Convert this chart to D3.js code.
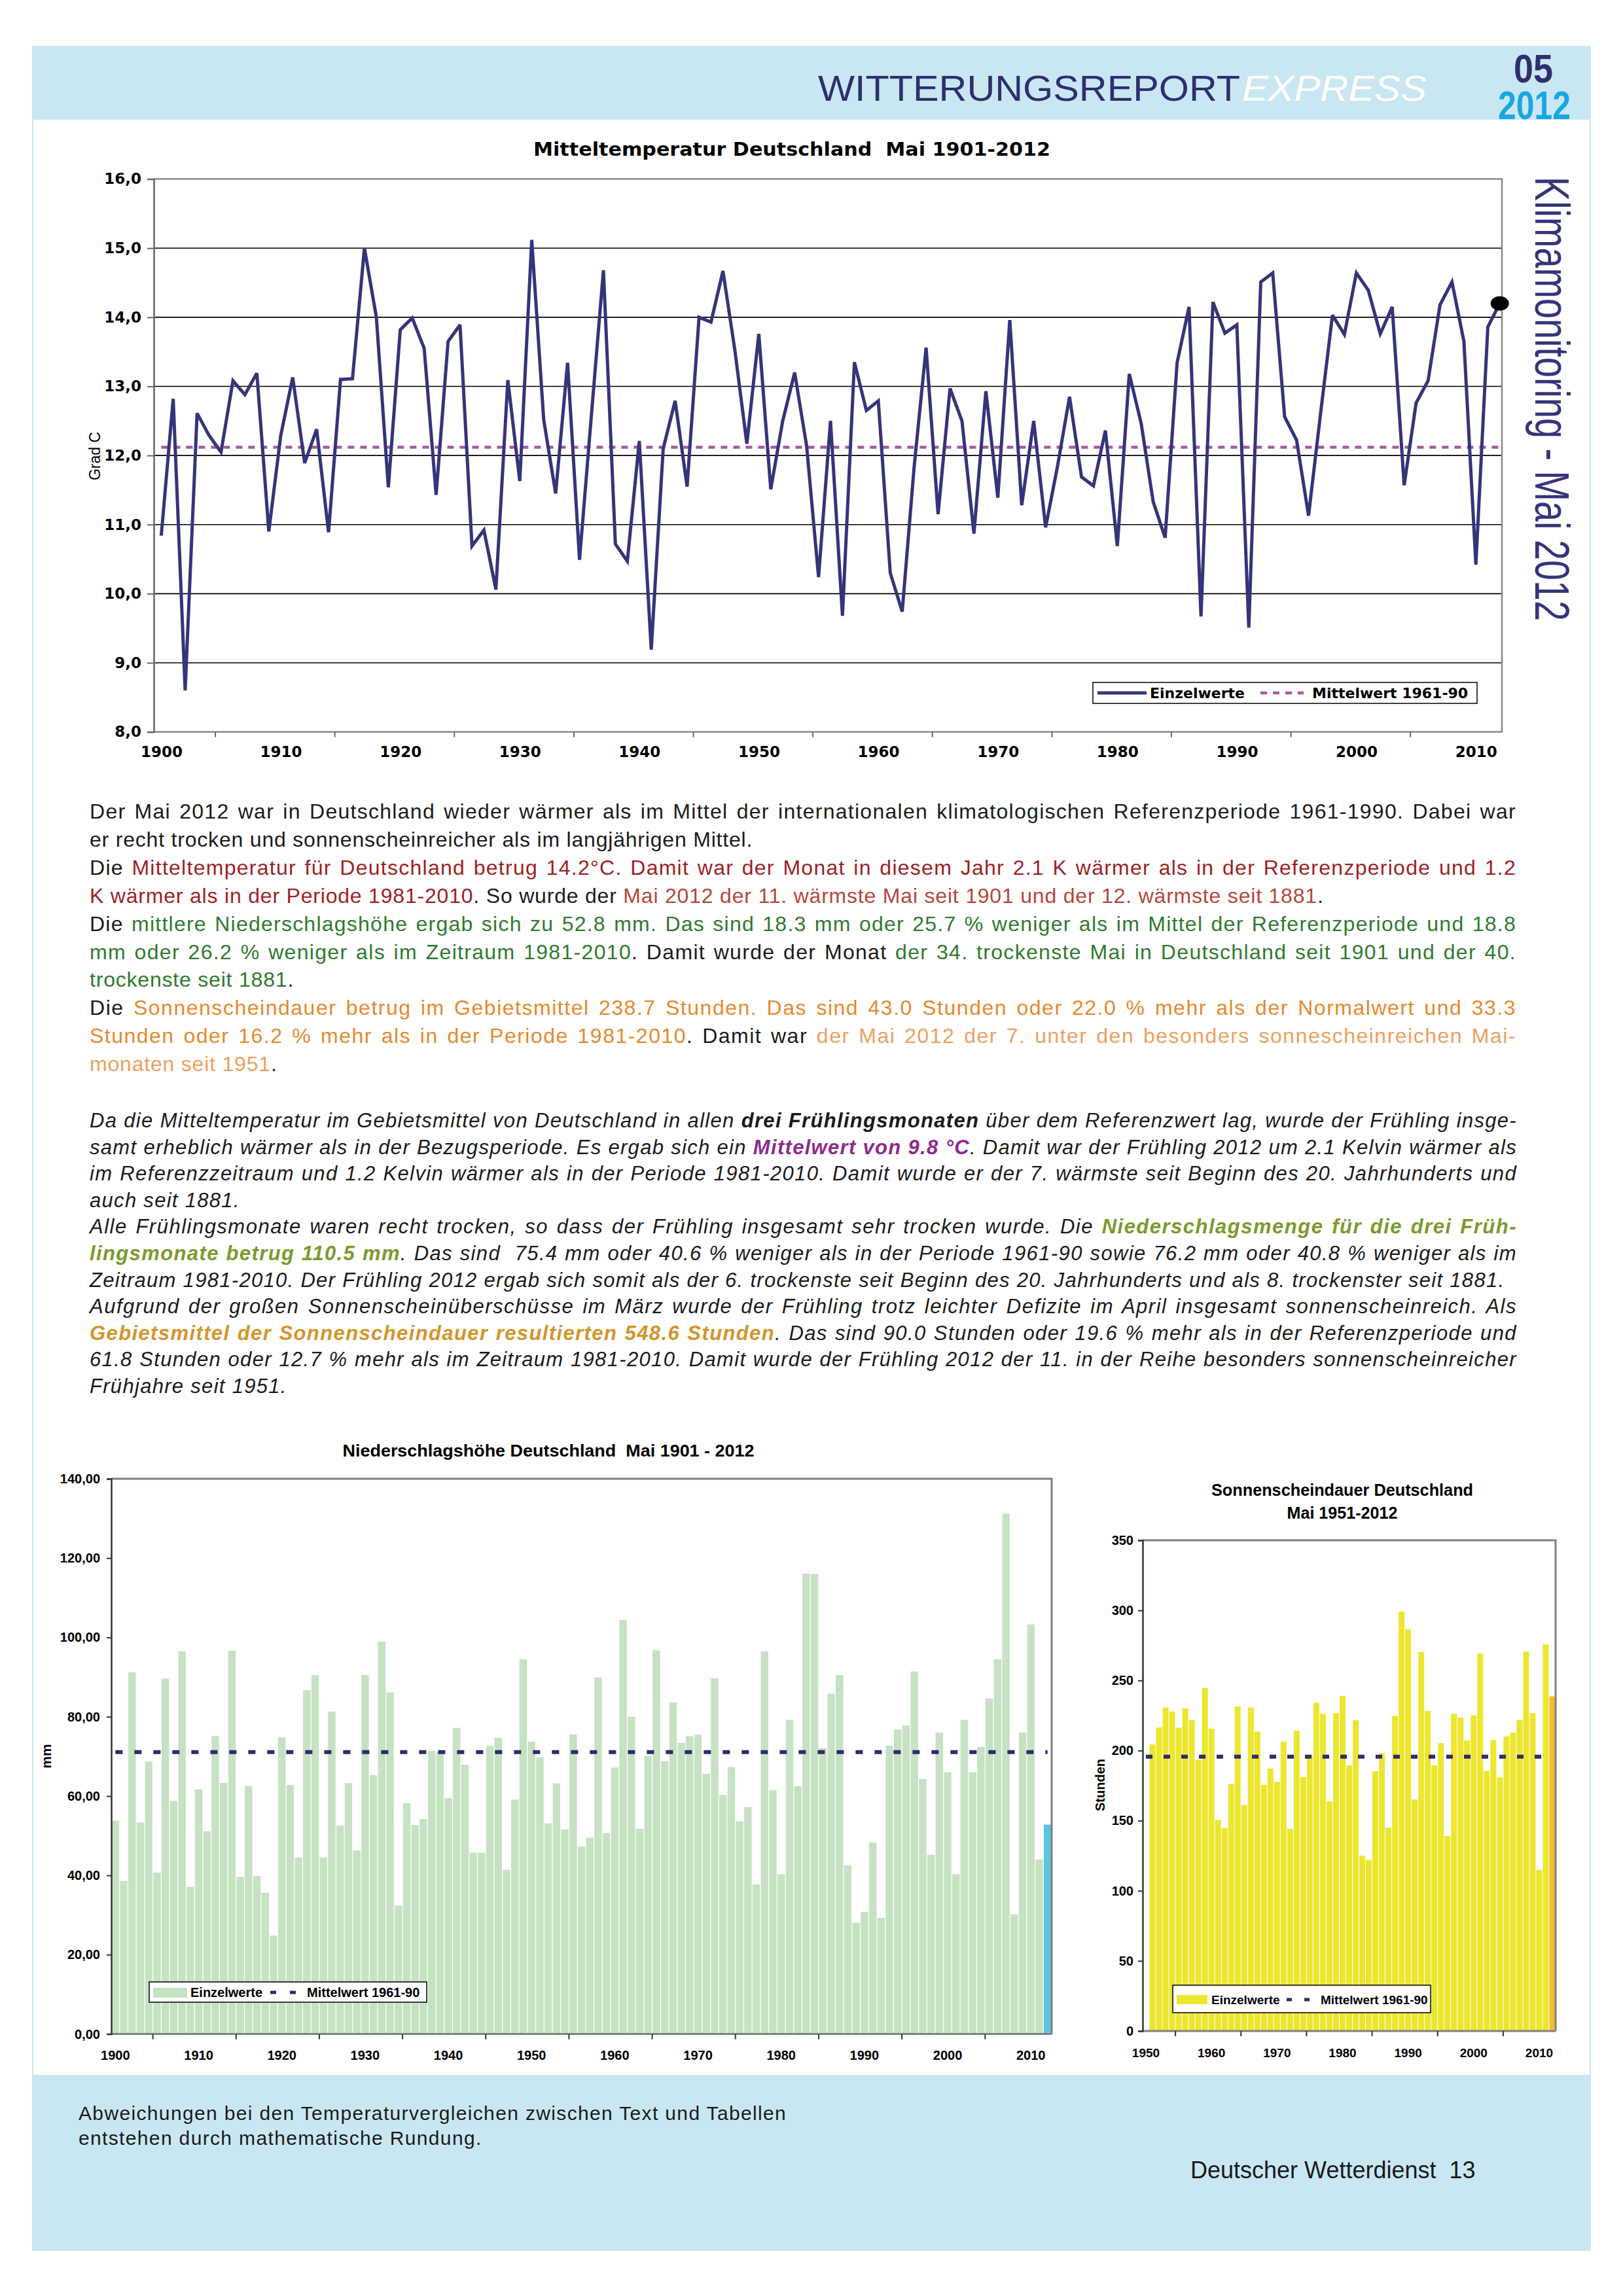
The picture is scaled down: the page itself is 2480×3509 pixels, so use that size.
<!DOCTYPE html>
<html><head><meta charset="utf-8">
<script src="https://cdn.jsdelivr.net/npm/d3@7"></script>
<style>
html,body{margin:0;padding:0;background:#fff;}
#page{position:relative;width:2480px;height:3509px;overflow:hidden;font-family:"Liberation Sans",Arial,sans-serif;background:#fff;}
#page svg{position:absolute;left:0;top:0;}
.ln{position:absolute;white-space:pre;line-height:1.117;color:#1a1a1a;font-family:"Liberation Sans",Arial,sans-serif;}
</style></head><body><div id="page"></div>
<script>
// ---------------- DATA ----------------
const tempStartYear = 1900;
const tempValues = [10.84,12.82,8.60,12.61,12.29,12.05,13.08,12.88,13.19,10.90,
 12.29,13.13,11.89,12.38,10.89,13.10,13.11,15.00,14.00,11.54,
 13.82,13.99,13.55,11.43,13.65,13.89,10.69,10.92,10.06,13.09,
 11.63,15.12,12.52,11.45,13.34,10.49,12.60,14.68,10.72,10.47,
 12.21,9.19,12.10,12.79,11.55,14.00,13.93,14.67,13.52,12.17,
 13.76,11.51,12.50,13.20,12.14,10.24,12.50,9.68,13.35,12.65,
 12.79,10.30,9.74,11.84,13.56,11.15,12.97,12.50,10.87,12.93,
 11.39,13.96,11.28,12.50,10.96,11.85,12.85,11.69,11.56,12.36,
 10.69,13.18,12.46,11.33,10.81,13.34,14.15,9.67,14.22,13.77,
 13.89,9.51,14.51,14.64,12.56,12.22,11.13,12.60,14.03,13.75,
 14.64,14.39,13.76,14.15,11.57,12.76,13.08,14.18,14.51,13.65,
 10.42,13.86,14.20];
const tempMean = 12.12;
const tempYTicks = [8,9,10,11,12,13,14,15,16];
const tempXLabels = [1900,1910,1920,1930,1940,1950,1960,1970,1980,1990,2000,2010];

const precipStartYear = 1900;
const precipValues = [53.8,38.6,91.2,53.3,68.7,40.7,89.6,58.8,96.5,37.1,
 61.7,51.1,75.1,63.3,96.6,39.6,62.5,39.9,35.6,24.8,
 74.8,62.8,44.5,86.7,90.5,44.5,81.3,52.6,63.3,46.3,
 90.5,65.3,98.9,86.1,32.4,58.2,52.7,54.2,71.4,71.1,
 59.5,77.2,67.9,45.7,45.7,72.7,74.7,41.4,59.1,94.5,
 73.7,69.8,53.1,63.2,51.6,75.5,47.3,49.5,89.9,50.7,
 67.2,104.4,80.0,51.8,70.2,96.8,68.8,83.6,73.4,75.1,
 75.5,65.6,89.7,60.3,67.3,53.6,57.2,37.7,96.5,61.5,
 40.3,79.2,62.5,116.1,116.0,72.1,85.8,90.5,42.5,28.1,
 30.8,48.3,29.3,72.7,76.8,77.8,91.4,64.3,45.2,76.0,
 66.0,40.3,79.2,66.0,72.4,84.6,94.5,131.2,30.2,76.0,
 103.3,44.0,52.8];
const precipMean = 71.1;
const precipYTicks = [0,20,40,60,80,100,120,140];
const precipXLabels = [1900,1910,1920,1930,1940,1950,1960,1970,1980,1990,2000,2010];
const precipXTicks = [1905,1915,1925,1935,1945,1955,1965,1975,1985,1995,2005];

const sunAxisStart = 1950;
const sunStartYear = 1951;
const sunValues = [204.4,216.6,230.7,227.9,216.3,230.1,221.7,193.4,244.6,215.7,
 150.4,144.8,176.1,231.5,161.2,230.7,213.5,175.6,187.2,177.6,
 206.4,144.2,214.3,181.2,197.0,234.1,226.2,163.7,226.7,238.9,
 189.4,221.7,125.0,122.1,185.2,198.2,145.0,224.8,299.1,286.4,
 165.1,270.3,228.2,189.4,205.3,139.1,226.2,223.6,207.2,225.1,
 269.2,185.5,207.5,180.9,210.1,212.9,221.7,270.6,226.7,114.8,
 275.7,238.7];
const sunMean = 195.7;
const sunYTicks = [0,50,100,150,200,250,300,350];
const sunXLabels = [1950,1960,1970,1980,1990,2000,2010];
const sunXTicks = [1955,1965,1975,1985,1995,2005];

// ---------------- PAGE ----------------
const page = d3.select('#page');
const svg = page.append('svg').attr('width',2480).attr('height',3509);
const BAND = '#C9E7F2', NAVY = '#35347A';

svg.append('rect').attr('x',49).attr('y',70).attr('width',2382).attr('height',113).attr('fill',BAND);
svg.append('rect').attr('x',49).attr('y',3171).attr('width',2382).attr('height',269).attr('fill',BAND);
svg.append('line').attr('x1',50).attr('x2',50).attr('y1',183).attr('y2',3171).attr('stroke',BAND).attr('stroke-width',2);
svg.append('line').attr('x1',2430).attr('x2',2430).attr('y1',183).attr('y2',3171).attr('stroke',BAND).attr('stroke-width',2);

// header
svg.append('text').attr('x',1250).attr('y',154).attr('font-size',56).attr('fill','#2E2F6E')
  .attr('textLength',645).attr('lengthAdjust','spacingAndGlyphs').text('WITTERUNGSREPORT');
svg.append('text').attr('x',1898).attr('y',154).attr('font-size',56).attr('fill','#fff').attr('font-style','italic')
  .attr('textLength',282).attr('lengthAdjust','spacingAndGlyphs').text('EXPRESS');
svg.append('text').attr('x',2313).attr('y',126).attr('font-size',62).attr('font-weight','bold').attr('fill','#2E2F6E')
  .attr('textLength',60).attr('lengthAdjust','spacingAndGlyphs').text('05');
svg.append('text').attr('x',2289).attr('y',182).attr('font-size',62).attr('font-weight','bold').attr('fill','#1BA6E2')
  .attr('textLength',111).attr('lengthAdjust','spacingAndGlyphs').text('2012');

// Klimamonitoring side text
svg.append('text').attr('transform','translate(2346,270) rotate(90)').attr('font-size',74).attr('fill',NAVY)
  .attr('textLength',679).attr('lengthAdjust','spacingAndGlyphs').text('Klimamonitoring - Mai 2012');

// ---------------- TEMPERATURE CHART ----------------
const T = {l:235, r:2295, t:273.6, b:1118.6};
const tEnd = tempStartYear + tempValues.length - 1;
const tx = d3.scaleLinear().domain([tempStartYear, tEnd]).range([246.4, 2291.7]);
const ty = d3.scaleLinear().domain([8,16]).range([T.b, T.t]);
const tg = svg.append('g');
const DJ = 'DejaVu Sans';

tg.append('text').attr('x',815).attr('y',238).attr('font-family',DJ).attr('font-weight','bold').attr('font-size',28)
  .attr('textLength',790).attr('lengthAdjust','spacingAndGlyphs').style('white-space','pre')
  .text('Mitteltemperatur Deutschland  Mai 1901-2012');

tg.selectAll('line.tgrid').data(tempYTicks.filter(v => v > 8 && v < 16)).join('line').attr('class','tgrid')
  .attr('x1',T.l).attr('x2',T.r).attr('y1',d=>ty(d)).attr('y2',d=>ty(d)).attr('stroke','#000').attr('stroke-width',1.6);

tg.append('line').attr('x1',tx(tempStartYear)).attr('x2',tx(tEnd))
  .attr('y1',ty(tempMean)).attr('y2',ty(tempMean)).attr('stroke','#A65AA0').attr('stroke-width',4.5).attr('stroke-dasharray','10 9');

tg.append('path').datum(tempValues)
  .attr('d', d3.line().x((d,i)=>tx(tempStartYear+i)).y(d=>ty(d)))
  .attr('fill','none').attr('stroke',NAVY).attr('stroke-width',5).attr('stroke-linejoin','miter').attr('stroke-miterlimit',3);

tg.append('path').attr('d',`M${T.l},${T.t}H${T.r}V${T.b}H${T.l}`).attr('fill','none').attr('stroke','#8a8a8a').attr('stroke-width',2.5);

const tAY = tg.append('g').attr('transform',`translate(${T.l},0)`)
  .call(d3.axisLeft(ty).tickValues(tempYTicks).tickSize(10).tickPadding(9).tickFormat(d=>d.toFixed(1).replace('.',',')));
tAY.select('.domain').attr('stroke','#666').attr('stroke-width',2.5);
tAY.selectAll('.tick line').attr('stroke','#666').attr('stroke-width',2);
tAY.selectAll('text').attr('font-family',DJ).attr('font-weight','bold').attr('font-size',23).attr('fill','#000');

const tAX = tg.append('g').attr('transform',`translate(0,${T.b})`)
  .call(d3.axisBottom(tx).tickValues(tempXLabels).tickSize(0).tickPadding(22).tickFormat(d3.format('d')));
tAX.select('.domain').remove();
tAX.selectAll('text').attr('font-family',DJ).attr('font-weight','bold').attr('font-size',23).attr('fill','#000');
const tAT = tg.append('g').attr('transform',`translate(0,${T.b})`)
  .call(d3.axisBottom(tx).tickValues(tempXLabels.map(y=>y+4.5).filter(y=>y<tEnd)).tickSize(8).tickFormat(''));
tAT.select('.domain').remove();
tAT.selectAll('.tick line').attr('stroke','#666').attr('stroke-width',2);

const lastT = tempValues.length - 1;
tg.append('ellipse').attr('cx',tx(tempStartYear+lastT)).attr('cy',ty(tempValues[lastT])).attr('rx',14).attr('ry',11).attr('fill','#000');

tg.append('text').attr('transform',`translate(153,697) rotate(-90)`).attr('text-anchor','middle')
  .attr('font-size',23).attr('fill','#000').text('Grad C');

// legend
const tl = tg.append('g');
tl.append('rect').attr('x',1670).attr('y',1043).attr('width',587).attr('height',32).attr('fill','#fff').attr('stroke','#000').attr('stroke-width',1.5);
tl.append('line').attr('x1',1677).attr('x2',1752).attr('y1',1059).attr('y2',1059).attr('stroke',NAVY).attr('stroke-width',5);
tl.append('text').attr('x',1757).attr('y',1067).attr('font-family',DJ).attr('font-weight','bold').attr('font-size',22).text('Einzelwerte');
tl.append('line').attr('x1',1926).attr('x2',1992).attr('y1',1059).attr('y2',1059).attr('stroke','#A65AA0').attr('stroke-width',4.5).attr('stroke-dasharray','10 9');
tl.append('text').attr('x',2005).attr('y',1067).attr('font-family',DJ).attr('font-weight','bold').attr('font-size',22).text('Mittelwert 1961-90');

// ---------------- TEXT ----------------
const styles = {
  k:{c:'#1a1a1a'}, r:{c:'#9E1F23'}, r2:{c:'#B4473B'}, g:{c:'#2F7A2E'}, o:{c:'#E5892C'}, o2:{c:'#ECA060'},
  i:{c:'#1a1a1a'}, ib:{c:'#1a1a1a',b:1}, ip:{c:'#8E2A8C',b:1}, ig:{c:'#7C9A2E',b:1}, io:{c:'#D2952B',b:1}
};
const para1 = [
 [[['Der Mai 2012 war in Deutschland wieder wärmer als im Mittel der internationalen klimatologischen Referenzperiode 1961-1990. Dabei war','k']],1],
 [[['er recht trocken und sonnenscheinreicher als im langjährigen Mittel.','k']],0],
 [[['Die ','k'],['Mitteltemperatur für Deutschland betrug 14.2°C. Damit war der Monat in diesem Jahr 2.1 K wärmer als in der Referenzperiode und 1.2','r']],1],
 [[['K wärmer als in der Periode 1981-2010','r'],['. So wurde der ','k'],['Mai 2012 der 11. wärmste Mai seit 1901 und der 12. wärmste seit 1881','r2'],['.','k']],0],
 [[['Die ','k'],['mittlere Niederschlagshöhe ergab sich zu 52.8 mm. Das sind 18.3 mm oder 25.7 % weniger als im Mittel der Referenzperiode und 18.8','g']],1],
 [[['mm oder 26.2 % weniger als im Zeitraum 1981-2010','g'],['. Damit wurde der Monat ','k'],['der 34. trockenste Mai in Deutschland seit 1901 und der 40.','g']],1],
 [[['trockenste seit 1881','g'],['.','k']],0],
 [[['Die ','k'],['Sonnenscheindauer betrug im Gebietsmittel 238.7 Stunden. Das sind 43.0 Stunden oder 22.0 % mehr als der Normalwert und 33.3','o']],1],
 [[['Stunden oder 16.2 % mehr als in der Periode 1981-2010','o'],['. Damit war ','k'],['der Mai 2012 der 7. unter den besonders sonnescheinreichen Mai-','o2']],1],
 [[['monaten seit 1951','o2'],['.','k']],0]
];
const para2 = [
 [[['Da die Mitteltemperatur im Gebietsmittel von Deutschland in allen ','i'],['drei Frühlingsmonaten','ib'],[' über dem Referenzwert lag, wurde der Frühling insge-','i']],1],
 [[['samt erheblich wärmer als in der Bezugsperiode. Es ergab sich ein ','i'],['Mittelwert von 9.8 °C','ip'],['. Damit war der Frühling 2012 um 2.1 Kelvin wärmer als','i']],1],
 [[['im Referenzzeitraum und 1.2 Kelvin wärmer als in der Periode 1981-2010. Damit wurde er der 7. wärmste seit Beginn des 20. Jahrhunderts und','i']],1],
 [[['auch seit 1881.','i']],0],
 [[['Alle Frühlingsmonate waren recht trocken, so dass der Frühling insgesamt sehr trocken wurde. Die ','i'],['Niederschlagsmenge für die drei Früh-','ig']],1],
 [[['lingsmonate betrug 110.5 mm','ig'],['. Das sind  75.4 mm oder 40.6 % weniger als in der Periode 1961-90 sowie 76.2 mm oder 40.8 % weniger als im','i']],1],
 [[['Zeitraum 1981-2010. Der Frühling 2012 ergab sich somit als der 6. trockenste seit Beginn des 20. Jahrhunderts und als 8. trockenster seit 1881.','i']],0],
 [[['Aufgrund der großen Sonnenscheinüberschüsse im März wurde der Frühling trotz leichter Defizite im April insgesamt sonnenscheinreich. Als','i']],1],
 [[['Gebietsmittel der Sonnenscheindauer resultierten 548.6 Stunden','io'],['. Das sind 90.0 Stunden oder 19.6 % mehr als in der Referenzperiode und','i']],1],
 [[['61.8 Stunden oder 12.7 % mehr als im Zeitraum 1981-2010. Damit wurde der Frühling 2012 der 11. in der Reihe besonders sonnenscheinreicher','i']],1],
 [[['Frühjahre seit 1951.','i']],0]
];
function textLine(segs, x, baseline, width, size, justify, italic, ls, share){
  const div = page.append('div').attr('class','ln')
    .style('left', x+'px').style('top', (baseline - 0.905*size)+'px')
    .style('font-size', size+'px').style('font-style', italic ? 'italic' : 'normal')
    .style('letter-spacing', ls+'px');
  const sp = div.append('span');
  segs.forEach(([t,k]) => sp.append('span').text(t).style('color', styles[k].c).style('font-weight', styles[k].b ? 'bold' : 'normal'));
  if (justify) {
    const full = segs.map(s=>s[0]).join('');
    const n = full.split(' ').length - 1;
    let w = sp.node().getBoundingClientRect().width;
    const extra = width - w;
    if (extra > 0) {
      div.style('letter-spacing', (ls + extra*share/full.length)+'px');
      w = sp.node().getBoundingClientRect().width;
    }
    if (n > 0) div.style('word-spacing', ((width - w)/n) + 'px');
  }
}
para1.forEach(([segs,j],k) => textLine(segs, 137, 1252 + k*42.9, 2180, 32, j, false, 0.8, 0.55));
para2.forEach(([segs,j],k) => textLine(segs, 137, 1724 + k*40.6, 2181, 31, j, true, 1.3, 0.35));

// ---------------- PRECIPITATION CHART ----------------
const P = {l:170, r:1607, t:2260, b:3108.6};
const pYears = precipValues.map((d,i)=>precipStartYear+i);
const px = d3.scaleBand().domain(pYears).range([P.l, P.r]).paddingInner(0.1).paddingOuter(0.05);
const py = d3.scaleLinear().domain([0,140]).range([P.b, P.t]);
const pg = svg.append('g');
const AR = '"Liberation Sans", Arial, sans-serif';

pg.append('text').attr('x',838).attr('y',2226).attr('text-anchor','middle').attr('font-weight','bold').attr('font-size',26)
  .attr('textLength',629).attr('lengthAdjust','spacingAndGlyphs').style('white-space','pre')
  .text('Niederschlagshöhe Deutschland  Mai 1901 - 2012');

pg.selectAll('rect.pbar').data(precipValues).join('rect').attr('class','pbar')
  .attr('x',(d,i)=>px(pYears[i])).attr('width',px.bandwidth())
  .attr('y',d=>py(d)).attr('height',d=>P.b-py(d))
  .attr('fill',(d,i)=> i === precipValues.length-1 ? '#5CC6DD' : '#C6E2C3');

pg.append('line').attr('x1',px(pYears[0])+px.bandwidth()/2).attr('x2',px(pYears[pYears.length-1])+px.bandwidth()/2)
  .attr('y1',py(precipMean)).attr('y2',py(precipMean)).attr('stroke','#2E2C6B').attr('stroke-width',6).attr('stroke-dasharray','11 18');

pg.append('path').attr('d',`M${P.l},${P.t}H${P.r}V${P.b}`).attr('fill','none').attr('stroke','#808080').attr('stroke-width',3);
pg.append('line').attr('x1',P.l).attr('x2',P.r).attr('y1',P.b).attr('y2',P.b).attr('stroke','#808080').attr('stroke-width',3);

const pAY = pg.append('g').attr('transform',`translate(${P.l},0)`)
  .call(d3.axisLeft(py).tickValues(precipYTicks).tickSize(7).tickPadding(10).tickFormat(d=>d+',00'));
pAY.select('.domain').attr('stroke','#333').attr('stroke-width',2.5);
pAY.selectAll('.tick line').attr('stroke','#333').attr('stroke-width',2);
pAY.selectAll('text').attr('font-family',AR).attr('font-weight','bold').attr('font-size',20).attr('fill','#000');

const pAX = pg.append('g').attr('transform',`translate(0,${P.b})`)
  .call(d3.axisBottom(px).tickValues(precipXLabels).tickSize(0).tickPadding(25));
pAX.select('.domain').remove();
pAX.selectAll('text').attr('font-family',AR).attr('font-weight','bold').attr('font-size',20).attr('fill','#000');
const pGap = (px.step()-px.bandwidth())/2;
pg.selectAll('line.ptick').data(precipXTicks).join('line').attr('class','ptick')
  .attr('x1',d=>px(d)-pGap).attr('x2',d=>px(d)-pGap).attr('y1',P.b).attr('y2',P.b+8).attr('stroke','#333').attr('stroke-width',2);

pg.append('text').attr('transform','translate(78,2684) rotate(-90)').attr('text-anchor','middle')
  .attr('font-weight','bold').attr('font-size',21).text('mm');

const pl = pg.append('g');
pl.append('rect').attr('x',228).attr('y',3029).attr('width',424).attr('height',31).attr('fill','#fff').attr('stroke','#000').attr('stroke-width',1.5);
pl.append('rect').attr('x',234).attr('y',3038).attr('width',52).attr('height',15).attr('fill','#C6E2C3');
pl.append('text').attr('x',291).attr('y',3052).attr('font-weight','bold').attr('font-size',20).text('Einzelwerte');
pl.append('line').attr('x1',413).attr('x2',452).attr('y1',3045).attr('y2',3045).attr('stroke','#2E2C6B').attr('stroke-width',5).attr('stroke-dasharray','9 21');
pl.append('text').attr('x',469).attr('y',3052).attr('font-weight','bold').attr('font-size',20).text('Mittelwert 1961-90');

// ---------------- SUNSHINE CHART ----------------
const S = {l:1746, r:2377, t:2354, b:3104};
const sCats = d3.range(sunAxisStart, sunStartYear + sunValues.length);
const sYears = sunValues.map((d,i)=>sunStartYear+i);
const sx = d3.scaleBand().domain(sCats).range([S.l, S.r]).paddingInner(0.1).paddingOuter(0.05);
const sy = d3.scaleLinear().domain([0,350]).range([S.b, S.t]);
const sg = svg.append('g');

sg.append('text').attr('x',2051).attr('y',2286).attr('text-anchor','middle').attr('font-weight','bold').attr('font-size',25)
  .attr('textLength',400).attr('lengthAdjust','spacingAndGlyphs').text('Sonnenscheindauer Deutschland');
sg.append('text').attr('x',2051).attr('y',2321).attr('text-anchor','middle').attr('font-weight','bold').attr('font-size',25)
  .attr('textLength',169).attr('lengthAdjust','spacingAndGlyphs').text('Mai 1951-2012');

sg.selectAll('rect.sbar').data(sunValues).join('rect').attr('class','sbar')
  .attr('x',(d,i)=>sx(sYears[i])).attr('width',sx.bandwidth())
  .attr('y',d=>sy(d)).attr('height',d=>S.b-sy(d))
  .attr('fill',(d,i)=> i === sunValues.length-1 ? '#F4BD2E' : '#ECE62E');

sg.append('line').attr('x1',sx(sCats[0])+sx.bandwidth()/2).attr('x2',sx(sCats[sCats.length-1])+sx.bandwidth()/2)
  .attr('y1',sy(sunMean)).attr('y2',sy(sunMean)).attr('stroke','#2E2C6B').attr('stroke-width',6).attr('stroke-dasharray','10 17');

sg.append('path').attr('d',`M${S.l},${S.t}H${S.r}V${S.b}`).attr('fill','none').attr('stroke','#808080').attr('stroke-width',3);
sg.append('line').attr('x1',S.l).attr('x2',S.r).attr('y1',S.b).attr('y2',S.b).attr('stroke','#808080').attr('stroke-width',3);

const sAY = sg.append('g').attr('transform',`translate(${S.l},0)`)
  .call(d3.axisLeft(sy).tickValues(sunYTicks).tickSize(7).tickPadding(7));
sAY.select('.domain').attr('stroke','#333').attr('stroke-width',2.5);
sAY.selectAll('.tick line').attr('stroke','#333').attr('stroke-width',2);
sAY.selectAll('text').attr('font-family',AR).attr('font-weight','bold').attr('font-size',20).attr('fill','#000');

const sAX = sg.append('g').attr('transform',`translate(0,${S.b})`)
  .call(d3.axisBottom(sx).tickValues(sunXLabels).tickSize(0).tickPadding(27));
sAX.select('.domain').remove();
sAX.selectAll('text').attr('font-family',AR).attr('font-weight','bold').attr('font-size',19).attr('fill','#000');
const sGap = (sx.step()-sx.bandwidth())/2;
sg.selectAll('line.stick').data(sunXTicks).join('line').attr('class','stick')
  .attr('x1',d=>sx(d)-sGap).attr('x2',d=>sx(d)-sGap).attr('y1',S.b).attr('y2',S.b+8).attr('stroke','#333').attr('stroke-width',2);

sg.append('text').attr('transform','translate(1688,2728) rotate(-90)').attr('text-anchor','middle')
  .attr('font-weight','bold').attr('font-size',20).text('Stunden');

const sl = sg.append('g');
sl.append('rect').attr('x',1792).attr('y',3034).attr('width',394).attr('height',42).attr('fill','#fff').attr('stroke','#000').attr('stroke-width',1.5);
sl.append('rect').attr('x',1798).attr('y',3049).attr('width',47).attr('height',14).attr('fill','#ECE62E');
sl.append('text').attr('x',1851).attr('y',3063).attr('font-weight','bold').attr('font-size',19).text('Einzelwerte');
sl.append('line').attr('x1',1966).attr('x2',2002).attr('y1',3056).attr('y2',3056).attr('stroke','#2E2C6B').attr('stroke-width',5).attr('stroke-dasharray','8 19');
sl.append('text').attr('x',2018).attr('y',3063).attr('font-weight','bold').attr('font-size',19).text('Mittelwert 1961-90');

// ---------------- FOOTER ----------------
svg.append('text').attr('x',120).attr('y',3240).attr('font-size',30).attr('fill','#1a1a1a').attr('letter-spacing',1.35)
  .text('Abweichungen bei den Temperaturvergleichen zwischen Text und Tabellen');
svg.append('text').attr('x',120).attr('y',3278).attr('font-size',30).attr('fill','#1a1a1a').attr('letter-spacing',1.35)
  .text('entstehen durch mathematische Rundung.');
svg.append('text').attr('x',1819).attr('y',3329).attr('font-size',36).attr('fill','#1a1a1a').style('white-space','pre')
  .text('Deutscher Wetterdienst  13');
</script></body></html>
